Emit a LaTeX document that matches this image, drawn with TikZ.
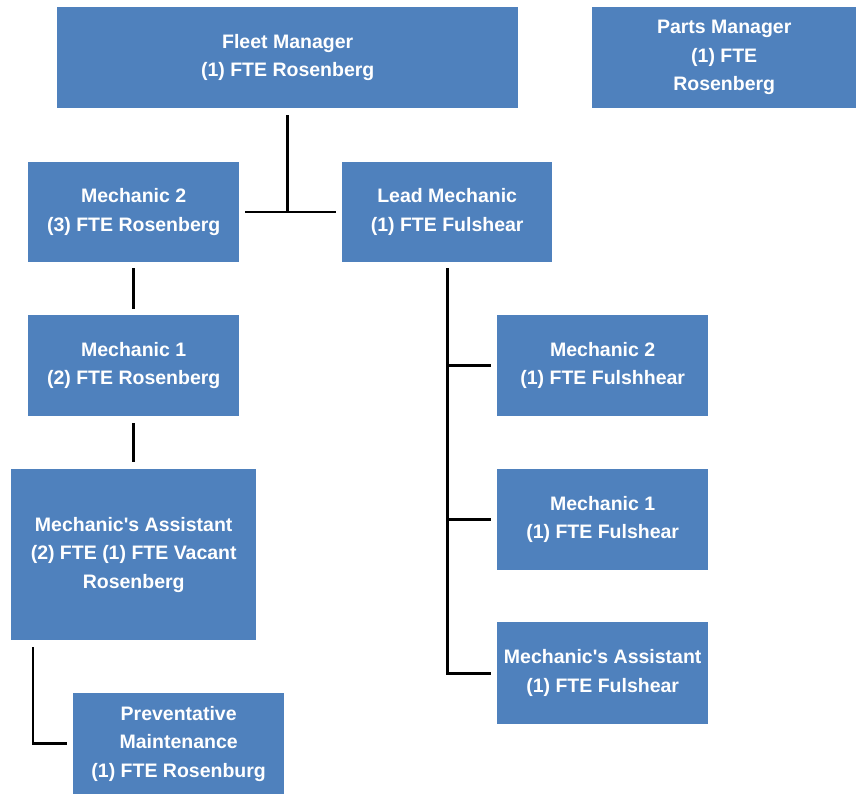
\documentclass[tikz,border=0pt]{standalone}
\usepackage{fontspec}
\setmainfont{Liberation Sans}
\definecolor{boxblue}{HTML}{4F81BD}
\begin{document}
\begin{tikzpicture}[x=1pt,y=-1pt,
  orgbox/.style={fill=boxblue, draw=none, anchor=north west, inner sep=0pt, align=center,
    text=white, font=\fontsize{19.5}{28.5}\selectfont\bfseries},
  link/.style={draw=black, line width=2.6pt}]
\useasboundingbox (0,0) rectangle (856,794);
\node[orgbox, minimum width=461pt, minimum height=101pt] (fm) at (57,7) {Fleet Manager\\(1) FTE Rosenberg};
\node[orgbox, minimum width=264pt, minimum height=101pt] (pm0) at (592,7) {Parts Manager\\(1) FTE\\Rosenberg};
\node[orgbox, minimum width=211pt, minimum height=100pt] (m2l) at (28,162) {Mechanic 2\\(3) FTE Rosenberg};
\node[orgbox, minimum width=210pt, minimum height=100pt] (lm) at (342,162) {Lead Mechanic\\(1) FTE Fulshear};
\node[orgbox, minimum width=211pt, minimum height=101pt] (m1l) at (28,315) {Mechanic 1\\(2) FTE Rosenberg};
\node[orgbox, minimum width=245pt, minimum height=171pt] (mal) at (11,469) {Mechanic\textquotesingle s Assistant\\(2) FTE (1) FTE Vacant\\Rosenberg};
\node[orgbox, minimum width=211pt, minimum height=101pt] (pm) at (73,693) {Preventative\\Maintenance\\(1) FTE Rosenburg};
\node[orgbox, minimum width=211pt, minimum height=101pt] (m2r) at (497,315) {Mechanic 2\\(1) FTE Fulshhear};
\node[orgbox, minimum width=211pt, minimum height=101pt] (m1r) at (497,469) {Mechanic 1\\(1) FTE Fulshear};
\node[orgbox, minimum width=211pt, minimum height=102pt] (mar) at (497,622) {Mechanic\textquotesingle s Assistant\\(1) FTE Fulshear};
% connectors
\draw[link] ([yshift=-7]fm.south) -- (fm.south |- m2l.east);
\draw[link] ([xshift=6]m2l.east) -- ([xshift=-6]lm.west);
\draw[link] ([yshift=-6]m2l.south) -- ([yshift=6]m1l.north);
\draw[link] ([yshift=-7]m1l.south) -- ([yshift=7]mal.north);
\draw[link] ([xshift=22,yshift=-7]mal.south west) |- ([xshift=-6]pm.west);
\draw[link] ([yshift=-6]lm.south) |- ([xshift=-6]mar.west);
\draw[link] (lm.south |- m2r.west) -- ([xshift=-6]m2r.west);
\draw[link] (lm.south |- m1r.west) -- ([xshift=-6]m1r.west);
\end{tikzpicture}
\end{document}
